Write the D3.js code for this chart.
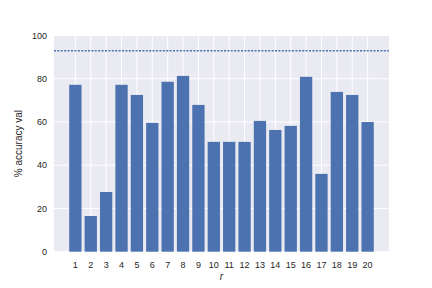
<!DOCTYPE html>
<html>
<head>
<meta charset="utf-8">
<script src="https://cdn.jsdelivr.net/npm/d3@7"></script>
<style>
  body { margin: 0; background: #fff; }
  text { font-family: "Liberation Sans", Arial, sans-serif; fill: #262626; }
</style>
</head>
<body>
<script>
// values
var rValues = [1, 2, 3, 4, 5, 6, 7, 8, 9, 10, 11, 12, 13, 14, 15, 16, 17, 18, 19, 20];
var accuracy = [77.2, 16.5, 27.6, 77.2, 72.5, 59.6, 78.6, 81.3, 67.9, 50.8,
                50.8, 50.8, 60.5, 56.3, 58.2, 80.9, 36, 73.9, 72.5, 60];
var baseline = 93;
var yTicks = [0, 20, 40, 60, 80, 100];

var w = 432;
var h = 288;
// plot box (named so it doesn't clash with window.top)
var plotLeft = 54, plotRight = 389, plotTop = 35.5, plotBottom = 251.7;

var svg = d3.select("body")
  .append("svg")
  .attr("width", w)
  .attr("height", h);

// axes background
svg.append("rect")
  .attr("x", plotLeft)
  .attr("y", plotTop)
  .attr("width", plotRight - plotLeft)
  .attr("height", plotBottom - plotTop)
  .attr("fill", "#EAEAF2");

var x = d3.scaleLinear().domain([-0.39, 21.39]).range([plotLeft, plotRight]);
var y = d3.scaleLinear().domain([0, 100]).range([plotBottom, plotTop]);

// grid
svg.selectAll("line.hgrid")
  .data(yTicks)
  .enter()
  .append("line")
  .attr("x1", plotLeft)
  .attr("x2", plotRight)
  .attr("y1", function(d) { return y(d); })
  .attr("y2", function(d) { return y(d); })
  .attr("stroke", "#fff")
  .attr("stroke-width", 1);

svg.selectAll("line.vgrid")
  .data(rValues)
  .enter()
  .append("line")
  .attr("x1", function(d) { return x(d); })
  .attr("x2", function(d) { return x(d); })
  .attr("y1", plotTop)
  .attr("y2", plotBottom)
  .attr("stroke", "#fff")
  .attr("stroke-width", 1);

// bars
svg.selectAll("rect.bar")
  .data(accuracy)
  .enter()
  .append("rect")
  .attr("x", function(d, i) { return x(rValues[i] - 0.4); })
  .attr("width", function(d, i) { return x(rValues[i] + 0.4) - x(rValues[i] - 0.4); })
  .attr("y", function(d) { return y(d); })
  .attr("height", function(d) { return y(0) - y(d); })
  .attr("fill", "#4C72B0");

// baseline (dotted)
svg.append("line")
  .attr("x1", plotLeft)
  .attr("x2", plotRight)
  .attr("y1", y(baseline))
  .attr("y2", y(baseline))
  .attr("stroke", "#4C72B0")
  .attr("stroke-width", 1.5)
  .attr("stroke-dasharray", "2,1.4");

// y axis tick labels
svg.selectAll("text.ytick")
  .data(yTicks)
  .enter()
  .append("text")
  .attr("x", plotLeft - 7)
  .attr("y", function(d) { return y(d); })
  .attr("dy", "0.35em")
  .attr("text-anchor", "end")
  .attr("font-size", "9px")
  .text(function(d) { return d; });

// x axis tick labels
svg.selectAll("text.xtick")
  .data(rValues)
  .enter()
  .append("text")
  .attr("x", function(d) { return x(d); })
  .attr("y", plotBottom + 16)
  .attr("text-anchor", "middle")
  .attr("font-size", "9px")
  .text(function(d) { return d; });

// axis labels
svg.append("text")
  .attr("x", (plotLeft + plotRight) / 2)
  .attr("y", 280)
  .attr("text-anchor", "middle")
  .attr("font-size", "10px")
  .attr("font-style", "italic")
  .text("r");

svg.append("text")
  .attr("transform", "translate(22," + ((plotTop + plotBottom) / 2) + ") rotate(-90)")
  .attr("text-anchor", "middle")
  .attr("font-size", "10px")
  .text("% accuracy val");
</script>
</body>
</html>
